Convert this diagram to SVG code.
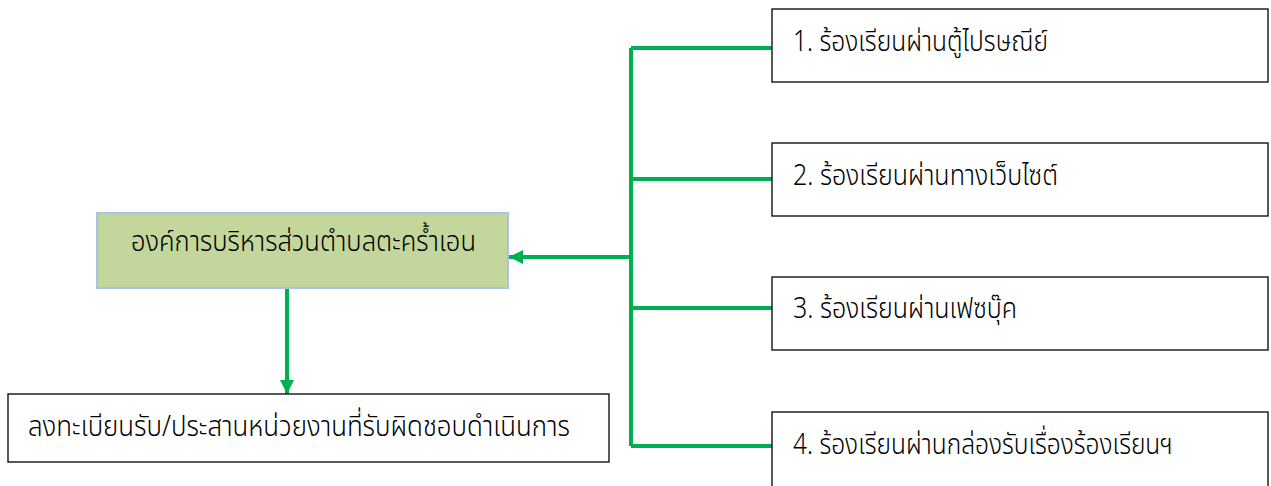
<svg xmlns="http://www.w3.org/2000/svg" width="1271" height="486" viewBox="0 0 1271 486">
<style>
.box{fill:#ffffff;stroke:#000000;stroke-width:1.3}
.main{fill:#C3D69B;stroke:#A7C4E8;stroke-width:2}
.t{font-family:"Noto Sans Thai","Noto Sans","DejaVu Sans",sans-serif;font-size:29px;font-weight:300;fill:#000000}
.c{fill:none;stroke:#00B050;stroke-width:4}
</style>
<defs>
<marker id="ah" viewBox="0 0 10 10" refX="10" refY="5" markerWidth="3.6" markerHeight="3.6" orient="auto" markerUnits="strokeWidth">
<path d="M0,0 L10,5 L0,10 Z" fill="#00B050"/>
</marker>
</defs>
<rect width="1271" height="486" fill="#ffffff"/>
<g id="connectors">
<path class="c" d="M631,48 V446"/>
<path class="c" d="M631,48 H772"/>
<path class="c" d="M631,179 H772"/>
<path class="c" d="M631,308 H772"/>
<path class="c" d="M631,446 H772"/>
<path class="c" d="M631,257 H509" marker-end="url(#ah)"/>
<path class="c" d="M287,288 V394" marker-end="url(#ah)"/>
</g>
<g id="center">
<rect class="main" x="97" y="213" width="411" height="75"/>
<text class="t" x="131" y="251" textLength="345" lengthAdjust="spacingAndGlyphs">องค์การบริหารส่วนตำบลตะคร้ำเอน</text>
</g>
<g id="register">
<rect class="box" x="8" y="394" width="601" height="68"/>
<text class="t" x="28" y="436" textLength="542" lengthAdjust="spacingAndGlyphs">ลงทะเบียนรับ/ประสานหน่วยงานที่รับผิดชอบดำเนินการ</text>
</g>
<g id="ch1">
<rect class="box" x="772" y="9" width="496" height="73"/>
<text class="t" x="793" y="51" textLength="255" lengthAdjust="spacingAndGlyphs">1. ร้องเรียนผ่านตู้ไปรษณีย์</text>
</g>
<g id="ch2">
<rect class="box" x="772" y="143" width="496" height="73"/>
<text class="t" x="793" y="185" textLength="265" lengthAdjust="spacingAndGlyphs">2. ร้องเรียนผ่านทางเว็บไซต์</text>
</g>
<g id="ch3">
<rect class="box" x="772" y="277" width="496" height="73"/>
<text class="t" x="793" y="318" textLength="224" lengthAdjust="spacingAndGlyphs">3. ร้องเรียนผ่านเฟซบุ๊ค</text>
</g>
<g id="ch4">
<rect class="box" x="772" y="412" width="496" height="80"/>
<text class="t" x="793" y="454" textLength="380" lengthAdjust="spacingAndGlyphs">4. ร้องเรียนผ่านกล่องรับเรื่องร้องเรียนฯ</text>
</g>
</svg>
